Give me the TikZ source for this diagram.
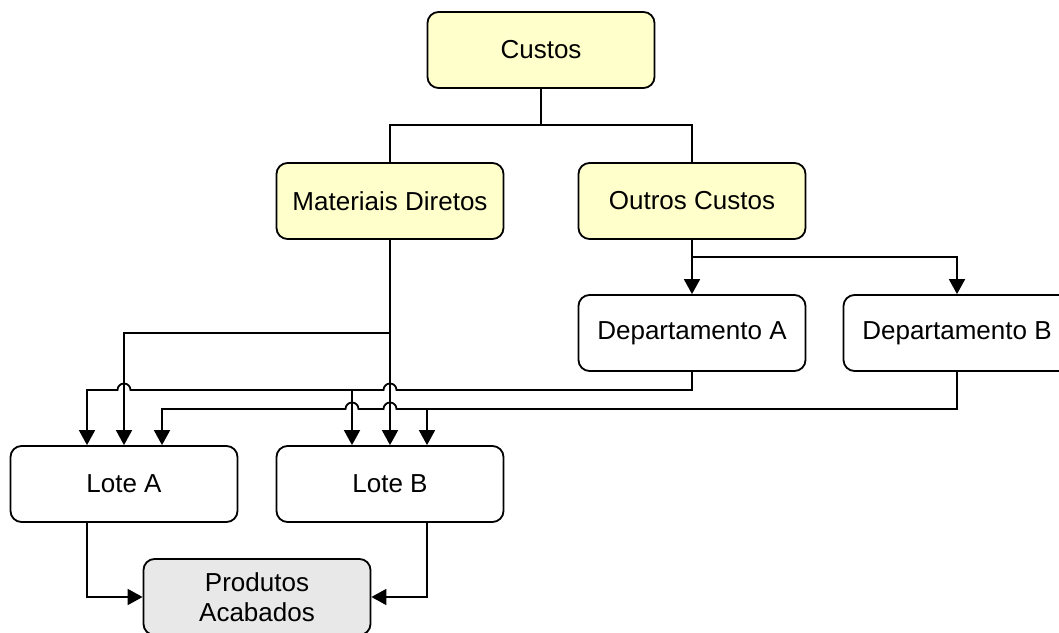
\documentclass[tikz,border=0pt]{standalone}
\usepackage{fontspec}
\setmainfont{Liberation Sans}
\usepackage{tikz}
\usetikzlibrary{arrows.meta, positioning, calc}
\definecolor{costyellow}{HTML}{FFFFCC}
\definecolor{costgray}{HTML}{E8E8E8}

\begin{document}
\begin{tikzpicture}[
    x=1pt, y=1pt,
    box/.style={rectangle, rounded corners=11pt, draw=black, line width=1.8pt, fill=white, minimum width=227pt, minimum height=76pt, inner sep=2pt, font=\fontsize{26}{30}\selectfont, align=center},
    topbox/.style={box, fill=costyellow},
    endbox/.style={box, fill=costgray},
    wire/.style={line width=1.8pt, color=black},
    arrow/.style={wire, -{Triangle[length=15pt, width=16pt]}}
]
\useasboundingbox (0,0) rectangle (1059,632);
\clip (0,0) rectangle (1059,632);

% Boxes
\node[topbox] (custos) at (541,582) {Custos};
\node[topbox] (mat) at (390,431) {Materiais Diretos};
\node[topbox] (outros) at (692,431) {Outros Custos};
\node[box] (depA) at (692,299) {Departamento A};
\node[box] (depB) at (957,299) {Departamento B};
\node[box] (loteA) at (124,148) {Lote A};
\node[box] (loteB) at (390,148) {Lote B};
\node[endbox] (prod) at (257,35) {Produtos\\Acabados};

% Rails and inputs
\coordinate (railT) at (0,507);
\coordinate (railD) at (0,375);
\coordinate (railM) at (0,299);
\coordinate (railA) at (0,242);
\coordinate (railB) at (0,223);
\coordinate (inA1) at ([xshift=-37pt]loteA.north);
\coordinate (inA3) at ([xshift=38pt]loteA.north);
\coordinate (inB1) at ([xshift=-38pt]loteB.north);
\coordinate (inB3) at ([xshift=37pt]loteB.north);

% Custos tree
\draw[wire] (custos.south) -- (custos.south |- railT) -| (mat.north);
\draw[wire] (custos.south |- railT) -| (outros.north);

% Outros Custos to departments
\draw[arrow] (outros.south) -- (depA.north);
\draw[arrow] (outros.south |- railD) -| (depB.north);

% Materiais Diretos to lots
\draw[arrow] (mat.south) -- (loteB.north);
\draw[arrow] (mat.south |- railM) -| (loteA.north);

% Departamento A to lots
\draw[arrow] (depA.south) |- ($(mat.south |- railA)+(6.5,0)$)
    arc[start angle=0, end angle=180, radius=6.5pt]
    -- ($(loteA.north |- railA)+(6.5,0)$)
    arc[start angle=0, end angle=180, radius=6.5pt]
    -| (inA1);
\draw[arrow] (inB1 |- railA) -- (inB1);

% Departamento B to lots
\draw[arrow] (depB.south) |- ($(mat.south |- railB)+(6.5,0)$)
    arc[start angle=0, end angle=180, radius=6.5pt]
    -- ($(inB1 |- railB)+(6.5,0)$)
    arc[start angle=0, end angle=180, radius=6.5pt]
    -| (inA3);
\draw[arrow] (inB3 |- railB) -- (inB3);

% Lots to finished products
\draw[arrow] (inA1 |- loteA.south) |- (prod.west);
\draw[arrow] (inB3 |- loteB.south) |- (prod.east);

\end{tikzpicture}
\end{document}
